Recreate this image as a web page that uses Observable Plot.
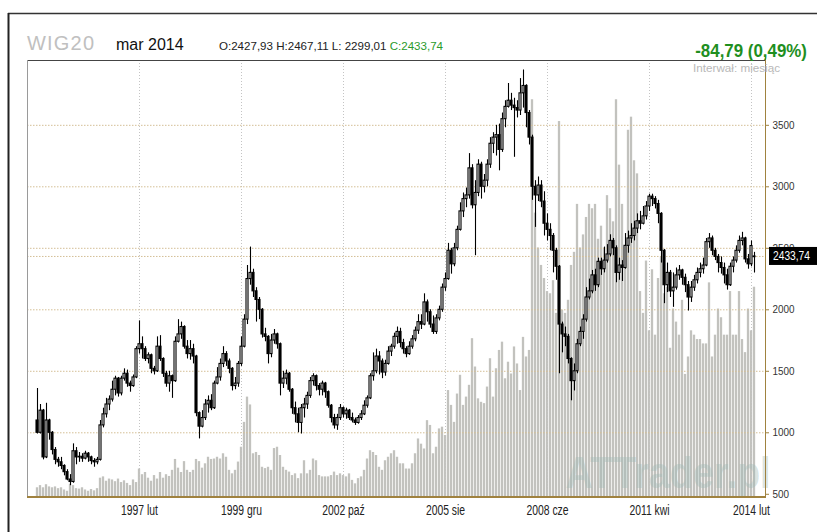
<!DOCTYPE html>
<html>
<head>
<meta charset="utf-8">
<script src="https://cdn.jsdelivr.net/npm/d3@7"></script>
<script src="https://cdn.jsdelivr.net/npm/@observablehq/plot@0.6"></script>
<style>
  body { margin: 0; background: #fff; }
  #wrap { position: relative; width: 817px; height: 532px; overflow: hidden; background: #fff; }
  #wrap > svg { position: absolute; left: 0; top: 0; }
  g[aria-label="y-axis tick"] { stroke: #a0823f; }
  g[aria-label="y-axis"] .tick line { stroke: #a0823f; }
  g[aria-label="y-axis"] .domain, g[aria-label="x-axis"] .domain { display: none; }
  g[aria-label="y-axis tick label"], g[aria-label="y-axis"] text { fill: #333; }
  g[aria-label="x-axis tick label"], g[aria-label="x-axis"] text { fill: #222; }
</style>
</head>
<body>
<div id="wrap"></div>
<script>
// ---------- data (monthly WIG20, Apr 1994 .. Mar 2014) ----------
const opens = [
  1100,1000,1180,800,1100,1000,860,780,760,730,
  680,620,600,850,800,805,790,830,800,770,
  760,780,1060,1150,1230,1270,1350,1440,1320,1440,
  1480,1400,1380,1450,1680,1720,1680,1600,1630,1520,
  1500,1700,1600,1480,1400,1460,1420,1740,1800,1860,
  1700,1640,1680,1620,1160,1050,1120,1230,1260,1200,
  1400,1450,1560,1640,1580,1520,1380,1400,1560,1700,
  1920,2250,2300,2150,2080,2000,1800,1780,1640,1750,
  1800,1720,1400,1440,1480,1350,1200,1150,1080,1200,
  1230,1300,1420,1460,1380,1350,1400,1330,1220,1120,
  1060,1120,1200,1150,1180,1120,1100,1080,1120,1150,
  1220,1280,1460,1500,1620,1580,1490,1560,1660,1700,
  1780,1820,1730,1680,1640,1700,1760,1830,1900,1880,
  2060,1980,1880,1820,1930,2000,2180,2250,2480,2370,
  2500,2650,2800,2900,2930,3150,2850,2950,3180,3000,
  3050,3180,3350,3400,3420,3300,3550,3650,3700,3660,
  3640,3620,3760,3820,3600,3400,3000,2930,3010,2880,
  2700,2650,2600,2480,2350,1880,1800,1780,1600,1420,
  1500,1720,1820,1920,2100,2150,2280,2200,2390,2330,
  2400,2450,2560,2500,2300,2360,2340,2520,2580,2600,
  2660,2720,2700,2760,2840,2920,2900,2860,2780,2480,
  2200,2300,2150,2180,2280,2320,2260,2200,2100,2180,
  2240,2300,2330,2360,2550,2580,2480,2430,2380,2340,
  2280,2200,2350,2400,2480,2560,2580,2410,2370,2427.93
];
const highs = [
  1360,1230,1190,1240,1110,1010,880,800,800,740,
  700,660,910,880,840,830,850,840,810,790,
  800,1100,1200,1280,1300,1420,1460,1450,1460,1520,
  1510,1420,1470,1700,1910,1780,1700,1650,1640,1540,
  1780,1790,1610,1500,1500,1470,1780,1920,1900,1870,
  1750,1750,1720,1630,1170,1180,1270,1300,1310,1420,
  1530,1600,1700,1660,1600,1530,1450,1580,1780,1960,
  2360,2510,2330,2180,2100,2010,1850,1790,1800,1840,
  1810,1730,1500,1510,1490,1360,1250,1200,1230,1280,
  1330,1450,1480,1470,1400,1420,1410,1340,1230,1150,
  1150,1230,1210,1200,1190,1160,1120,1140,1180,1260,
  1300,1480,1650,1680,1660,1600,1590,1700,1720,1810,
  1860,1850,1760,1700,1740,1790,1860,1960,1960,2130,
  2080,2000,1950,1960,2030,2210,2300,2540,2500,2540,
  2680,2870,2950,2990,3270,3180,3050,3220,3200,3100,
  3220,3400,3440,3500,3510,3600,3700,3840,3760,3720,
  3700,3880,3950,3830,3620,3420,3050,3080,3050,2960,
  2780,2700,2620,2500,2360,1900,1860,1800,1610,1560,
  1760,1860,1960,2180,2250,2320,2330,2420,2420,2510,
  2530,2610,2580,2520,2420,2400,2620,2640,2700,2720,
  2780,2800,2840,2880,2940,2940,2920,2890,2790,2490,
  2380,2320,2300,2340,2360,2330,2290,2230,2230,2280,
  2340,2380,2420,2580,2620,2600,2500,2450,2430,2380,
  2330,2380,2430,2520,2600,2630,2590,2450,2560,2467.11
];
const lows = [
  990,990,780,790,940,820,740,720,700,650,
  610,570,590,740,760,760,780,760,740,720,
  740,770,1040,1120,1180,1250,1300,1290,1300,1420,
  1370,1330,1370,1440,1640,1600,1580,1560,1480,1470,
  1490,1580,1450,1370,1330,1280,1410,1730,1760,1680,
  1600,1590,1560,1130,950,1040,1100,1160,1180,1190,
  1390,1420,1530,1540,1480,1340,1350,1370,1540,1690,
  1880,2200,2100,1900,1920,1770,1740,1560,1610,1720,
  1680,1300,1360,1390,1330,1150,1080,1000,990,1120,
  1190,1280,1380,1340,1300,1300,1280,1200,1080,1030,
  1020,1100,1120,1110,1100,1080,1060,1070,1100,1140,
  1200,1270,1420,1480,1470,1440,1460,1550,1620,1680,
  1720,1690,1640,1610,1630,1680,1740,1800,1840,1870,
  1900,1850,1800,1800,1910,1980,2150,2240,2290,2350,
  2480,2640,2750,2830,2900,2820,2440,2920,2900,2950,
  3000,3150,3270,3250,3130,3280,3480,3640,3620,3240,
  3560,3580,3640,3480,3340,2890,2670,2880,2830,2600,
  2560,2480,2300,2240,1480,1650,1700,1560,1260,1340,
  1480,1700,1760,1900,2080,2130,2150,2180,2280,2300,
  2380,2430,2440,2220,2240,2230,2330,2460,2540,2560,
  2620,2650,2690,2730,2800,2840,2820,2700,2380,2050,
  2140,2100,2020,2160,2240,2200,2140,1990,2060,2150,
  2210,2260,2290,2350,2500,2440,2400,2300,2290,2210,
  2160,2190,2300,2380,2460,2520,2380,2330,2350,2299.01
];
const closes = [
  1000,1180,800,1100,1000,860,780,760,730,680,
  620,600,850,800,805,790,830,800,770,760,
  780,1060,1150,1230,1270,1350,1440,1320,1440,1480,
  1400,1380,1450,1680,1720,1680,1600,1630,1520,1500,
  1700,1600,1480,1400,1460,1420,1740,1800,1860,1700,
  1640,1680,1620,1160,1050,1120,1230,1260,1200,1400,
  1450,1560,1640,1580,1520,1380,1400,1560,1700,1920,
  2250,2300,2150,2080,2000,1800,1780,1640,1750,1800,
  1720,1400,1440,1480,1350,1200,1150,1080,1200,1230,
  1300,1420,1460,1380,1350,1400,1330,1220,1120,1060,
  1120,1200,1150,1180,1120,1100,1080,1120,1150,1220,
  1280,1460,1500,1620,1580,1490,1560,1660,1700,1780,
  1820,1730,1680,1640,1700,1760,1830,1900,1880,2060,
  1980,1880,1820,1930,2000,2180,2250,2480,2370,2500,
  2650,2800,2900,2930,3150,2850,2950,3180,3000,3050,
  3180,3350,3400,3420,3300,3550,3650,3700,3660,3640,
  3620,3760,3820,3600,3400,3000,2930,3010,2880,2700,
  2650,2600,2480,2350,1880,1800,1780,1600,1420,1500,
  1720,1820,1920,2100,2150,2280,2200,2390,2330,2400,
  2450,2560,2500,2300,2360,2340,2520,2580,2600,2660,
  2720,2700,2760,2840,2920,2900,2860,2780,2480,2200,
  2300,2150,2180,2280,2320,2260,2200,2100,2180,2240,
  2300,2330,2360,2550,2580,2480,2430,2380,2340,2280,
  2200,2350,2400,2480,2560,2580,2410,2370,2518.53,2433.74
];
// volume, relative units (0..100 = plot height)
const volumes = [
  2,2.5,2,2.7,2.2,2,2.2,1.8,2,1.5,
  1.2,2.8,2.5,1.8,1.7,2,1.5,1.2,1.6,1.3,
  1.8,4.2,4.5,3.5,4,3.8,3.4,4,3.2,3.6,
  3,2.5,3.8,3.2,6.3,5,5.5,4.2,3.5,4.8,
  4,5.5,4.2,5,4.6,6,8.5,6.5,5.5,8,
  6,5.5,6,8.5,8,6.5,7.5,9,8.5,8.6,
  9,8.6,9.8,9,6,5.2,6,7.9,11.3,17,
  22.8,21,9.8,10.1,9.4,6.7,6.4,6.7,6,11,
  11.3,9.4,6.7,6,5.6,4.8,5.2,4.1,5.2,8.2,
  5.2,6,8.6,8.2,4.8,4.5,4.5,4.5,4.8,5.6,
  4.8,5.2,4.8,4.5,5.2,3.7,2.9,4.1,4.5,6,
  8.6,10.5,10.1,9.4,6.7,6,8.2,9,9.8,10.5,
  9,7.5,7.5,6.3,6.3,7.5,9.8,13.2,12,10.9,
  17.4,16.3,9.8,11.3,15.5,15.9,14,24.3,20.9,17,
  23.5,27.8,20.9,22.8,25.5,36.2,29.7,22.4,21.6,21.3,
  25.1,31.6,22.8,29.3,33.5,35.4,27,30.8,28.1,34.3,
  30.4,24.3,36.5,32,33.5,91,65,57,53,50,
  47,46.5,49.5,42,86,42.7,42,45,53,56,
  67,57,60,64,67,66,67,59,62,57,
  69,66,63,91,76,67,54.5,84,87,77,
  74,47,42,54,38,52,37,50,55,46.5,
  48,34,43,40,37,45,28,32,38,37,
  36,36,35,35,49,32,37,43,41,37,
  37,47,37,37,47,36,33,43,38,48
];
const xTickIdx = [34, 68, 102, 136, 170, 204, 238];
const xTickLabels = ["1997 lut", "1999 gru", "2002 paź", "2005 sie", "2008 cze", "2011 kwi", "2014 lut"];
const yTicks = [500, 1000, 1500, 2000, 2500, 3000, 3500];
const gridLevels = [1000, 1500, 2000, 2500, 3000, 3500];
const indexName = "WIG20";
const periodLabel = "mar 2014";
const changeText = "-84,79 (0,49%)";
const intervalText = "Interwał: miesiąc";
const watermark = "ATTrader.pl";

// ---------- build ----------
const FONT = '"Liberation Sans",Arial,sans-serif';
const W = 817, H = 532;
const M = {top: 60, right: 52, bottom: 36, left: 27};
const n = closes.length;
const bars = closes.map((c, i) => ({i, o: opens[i], h: highs[i], l: lows[i], c, v: volumes[i]}));
const last = bars[n - 1];
const fmt = v => v.toFixed(2).replace(".", ",");
const xBand = {type: "band", domain: d3.range(n), paddingInner: 0.2, paddingOuter: 0.975, align: 0.5};

const volPlot = Plot.plot({
  width: W, height: H,
  marginTop: M.top, marginRight: M.right, marginBottom: M.bottom, marginLeft: M.left,
  x: {...xBand, axis: null},
  y: {domain: [0, 100], axis: null},
  style: {background: "transparent"},
  marks: [Plot.barY(bars, {x: "i", y: "v", fill: "#c2c2be", insetLeft: -0.15, insetRight: -0.15})]
});

const pricePlot = Plot.plot({
  width: W, height: H,
  marginTop: M.top, marginRight: M.right, marginBottom: M.bottom, marginLeft: M.left,
  x: {...xBand, ticks: xTickIdx, tickFormat: d => xTickLabels[xTickIdx.indexOf(d)], tickSize: 0, tickPadding: 9, label: null},
  y: {domain: [482, 4027], ticks: yTicks, tickFormat: d => String(d), tickSize: 3, tickPadding: 4, axis: "right", label: null},
  color: {type: "identity"},
  style: {background: "transparent", fontFamily: FONT, fontSize: "12px", color: "#333", overflow: "visible"},
  marks: [
    Plot.ruleX(xTickIdx, {x: d => d, stroke: "#c4c4c4", strokeDasharray: "1,2"}),
    Plot.ruleY(gridLevels, {y: d => d, stroke: "#d4bf96", strokeDasharray: "1.5,1.5"}),
    Plot.ruleY([last.c], {y: d => d, stroke: "#d4bf96", strokeDasharray: "1.5,1.5"}),
    Plot.text([watermark], {text: d => d, frameAnchor: "bottom-right", textAnchor: "end", lineAnchor: "bottom",
      dx: 5, dy: -9, fontSize: 44, fontWeight: "bold", fontFamily: FONT, fill: "#9fb9b4", fillOpacity: 0.4}),
    Plot.ruleX(bars, {x: "i", y1: "l", y2: "h", stroke: "#000", strokeWidth: 1.1}),
    Plot.barY(bars, {x: "i", y1: "o", y2: "c", fill: d => d.c >= d.o ? "#ffffff" : "#000000",
      stroke: "#000", strokeWidth: 1.1})
  ]
});

const wrap = document.getElementById("wrap");
wrap.appendChild(volPlot);
wrap.appendChild(pricePlot);

// emulate the narrow chart font by compressing text horizontally
function narrowText(t, fontSize, factor) {
  t.style.fontSize = fontSize + "px";
  const len = t.getComputedTextLength();
  t.setAttribute("textLength", (len * factor).toFixed(1));
  t.setAttribute("lengthAdjust", "spacingAndGlyphs");
}
pricePlot.querySelectorAll('g[aria-label="x-axis tick label"] text, g[aria-label="x-axis"] text')
  .forEach(t => narrowText(t, 14, 0.74));
pricePlot.querySelectorAll('g[aria-label="y-axis tick label"] text, g[aria-label="y-axis"] text')
  .forEach(t => narrowText(t, 11.5, 0.86));
pricePlot.querySelectorAll('g[aria-label="text"] text').forEach(t => {
  t.setAttribute("textLength", 205);
  t.setAttribute("lengthAdjust", "spacingAndGlyphs");
});

// overlay: frames, header, last-price tag
const yLast = pricePlot.scale("y").apply(last.c);
const ov = d3.create("svg").attr("width", W).attr("height", H).style("font-family", FONT);
// outer border
ov.append("line").attr("x1", 8).attr("x2", W).attr("y1", 13.5).attr("y2", 13.5).attr("stroke", "#333").attr("stroke-width", 1.5);
ov.append("line").attr("x1", 8.5).attr("x2", 8.5).attr("y1", 13).attr("y2", H).attr("stroke", "#222").attr("stroke-width", 2);
// plot frame
const L = M.left, R = W - M.right, T = M.top, B = H - M.bottom;
ov.append("line").attr("x1", L).attr("x2", R).attr("y1", T + 0.5).attr("y2", T + 0.5).attr("stroke", "#444");
ov.append("line").attr("x1", L + 0.5).attr("x2", L + 0.5).attr("y1", T).attr("y2", B).attr("stroke", "#9a9a9a");
ov.append("line").attr("x1", R + 0.5).attr("x2", R + 0.5).attr("y1", T - 3).attr("y2", B).attr("stroke", "#a0823f");
ov.append("line").attr("x1", L).attr("x2", R + 1).attr("y1", B + 1).attr("y2", B + 1).attr("stroke", "#a0823f").attr("stroke-width", 2);
// header
ov.append("text").attr("x", 27).attr("y", 50).attr("font-size", 20).attr("letter-spacing", 1.2).attr("fill", "#c0c0c0").text(indexName);
ov.append("text").attr("x", 116).attr("y", 50).attr("font-size", 16).attr("fill", "#111").text(periodLabel);
const ohlc = ov.append("text").attr("x", 219).attr("y", 50).attr("font-size", 11.5).attr("fill", "#222")
  .attr("textLength", 224).attr("lengthAdjust", "spacingAndGlyphs");
ohlc.append("tspan").text(`O:${fmt(last.o)} H:${fmt(last.h)} L: ${fmt(last.l)} `);
ohlc.append("tspan").attr("fill", "#2a9a2a").text(`C:${fmt(last.c)}`);
ov.append("text").attr("transform", "translate(807,57) scale(0.89,1)").attr("text-anchor", "end")
  .attr("font-size", 19).attr("font-weight", "bold").attr("fill", "#1f8f1f").text(changeText);
ov.append("text").attr("x", 780).attr("y", 72).attr("text-anchor", "end").attr("font-size", 11.5).attr("fill", "#b8b8b8")
  .attr("textLength", 87).attr("lengthAdjust", "spacingAndGlyphs").text(intervalText);
// last price tag
ov.append("rect").attr("x", 769).attr("y", yLast - 9).attr("width", 48).attr("height", 18).attr("fill", "#000");
ov.append("text").attr("x", 773).attr("y", yLast + 4.5).attr("font-size", 12.5).attr("fill", "#fff")
  .attr("textLength", 37).attr("lengthAdjust", "spacingAndGlyphs").text(fmt(last.c));
wrap.appendChild(ov.node());
</script>
</body>
</html>
